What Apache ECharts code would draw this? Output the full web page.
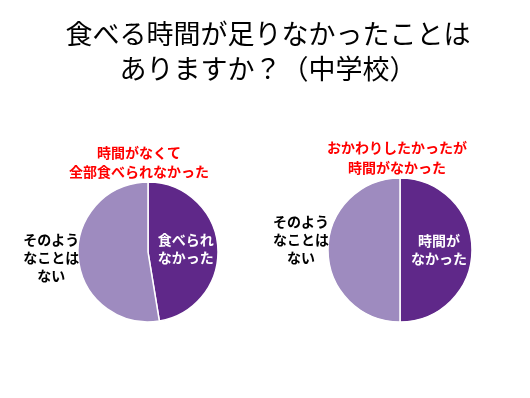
<!DOCTYPE html>
<html><head><meta charset="utf-8">
<script src="https://cdn.jsdelivr.net/npm/echarts@6/dist/echarts.min.js"></script>
<style>html,body{margin:0;padding:0;background:#fff}#c{width:530px;height:398px}</style>
</head><body><div id="c"></div>
<script>
const mainTitle = '食べる時間が足りなかったことは\nありますか？（中学校）';
const leftTitle = '時間がなくて\n全部食べられなかった';
const rightTitle = 'おかわりしたかったが\n時間がなかった';
const leftCategories = ['食べられ\nなかった', 'そのよう\nなことは\nない'];
const leftValues = [47.4, 52.6];
const rightCategories = ['時間が\nなかった', 'そのよう\nなことは\nない'];
const rightValues = [50, 50];
const colors = ['#5f2889', '#9e8bbf'];

const font = '"Noto Sans CJK JP", "Noto Sans", sans-serif';
const chart = echarts.init(document.getElementById('c'), null, {renderer: 'canvas'});

function pie(center, radius, cats, vals, lightDy) {
  return {
    type: 'pie', center: center, radius: radius, startAngle: 90, clockwise: true,
    animation: false, silent: true,
    itemStyle: {borderColor: '#fff', borderWidth: 1.5},
    labelLine: {show: false, length: 0, length2: 0},
    data: cats.map((c, i) => ({
      name: c, value: vals[i],
      itemStyle: {color: colors[i]},
      label: i === 0
        ? {position: 'inside', color: '#fff', fontWeight: 'bold', fontSize: 14, lineHeight: 18, fontFamily: font, align: 'center'}
        : {position: 'outside', color: '#000', fontWeight: 'bold', fontSize: 14, lineHeight: 18, fontFamily: font, distanceToLabelLine: 0}
    })),
    label: {show: true, formatter: '{b}'},
    labelLayout: function (p) {
      if (p.dataIndex !== 1) return {};
      const r = p.labelRect;
      return {x: r.x + r.width / 2 + 1, y: r.y + r.height / 2 + lightDy, align: 'center', verticalAlign: 'middle'};
    }
  };
}

chart.setOption({
  backgroundColor: '#fff',
  animation: false,
  title: [
    {text: mainTitle, left: 263, top: 11, textAlign: 'center',
     textStyle: {fontSize: 27, fontWeight: 'normal', color: '#000', lineHeight: 35, fontFamily: font}},
    {text: leftTitle, left: 134, top: 138, textAlign: 'center',
     textStyle: {fontSize: 14, fontWeight: 'bold', color: '#ff0000', lineHeight: 19, fontFamily: font}},
    {text: rightTitle, left: 392, top: 133, textAlign: 'center',
     textStyle: {fontSize: 14, fontWeight: 'bold', color: '#ff0000', lineHeight: 20, fontFamily: font}}
  ],
  series: [
    pie([148, 252], 70, leftCategories, leftValues, 0),
    pie([400, 250], 72, rightCategories, rightValues, -10)
  ]
});
</script></body></html>
